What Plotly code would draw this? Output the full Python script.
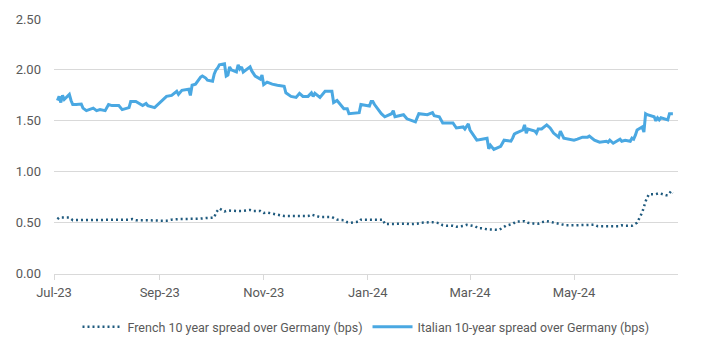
import pandas as pd
import plotly.graph_objects as go

# Italian 10-year spread over Germany
italy_dates = [
    "2023-07-03", "2023-07-04", "2023-07-05", "2023-07-06", "2023-07-07", "2023-07-10", "2023-07-11",
    "2023-07-12", "2023-07-14", "2023-07-17", "2023-07-18", "2023-07-20", "2023-07-24", "2023-07-26",
    "2023-07-28", "2023-07-31", "2023-08-02", "2023-08-04", "2023-08-08", "2023-08-10", "2023-08-14",
    "2023-08-15", "2023-08-18", "2023-08-22", "2023-08-24", "2023-08-25", "2023-08-29", "2023-09-01",
    "2023-09-05", "2023-09-08", "2023-09-11", "2023-09-12", "2023-09-14", "2023-09-18", "2023-09-19",
    "2023-09-20", "2023-09-22", "2023-09-25", "2023-09-26", "2023-09-27", "2023-09-28", "2023-09-29",
    "2023-10-02", "2023-10-03", "2023-10-04", "2023-10-05", "2023-10-06", "2023-10-09", "2023-10-10",
    "2023-10-11", "2023-10-12", "2023-10-13", "2023-10-16", "2023-10-17", "2023-10-18", "2023-10-19",
    "2023-10-20", "2023-10-24", "2023-10-25", "2023-10-27", "2023-10-30", "2023-10-31", "2023-11-01",
    "2023-11-03", "2023-11-06", "2023-11-09", "2023-11-13", "2023-11-14", "2023-11-17", "2023-11-20",
    "2023-11-22", "2023-11-24", "2023-11-27", "2023-11-29", "2023-11-30", "2023-12-01", "2023-12-04",
    "2023-12-07", "2023-12-11", "2023-12-12", "2023-12-14", "2023-12-15", "2023-12-18", "2023-12-20",
    "2023-12-21", "2023-12-27", "2023-12-28", "2024-01-02", "2024-01-03", "2024-01-04", "2024-01-05",
    "2024-01-09", "2024-01-11", "2024-01-15", "2024-01-16", "2024-01-17", "2024-01-22", "2024-01-24",
    "2024-01-29", "2024-01-31", "2024-02-05", "2024-02-08", "2024-02-09", "2024-02-12", "2024-02-14",
    "2024-02-19", "2024-02-20", "2024-02-22", "2024-02-26", "2024-02-27", "2024-02-29", "2024-03-01",
    "2024-03-05", "2024-03-08", "2024-03-11", "2024-03-12", "2024-03-13", "2024-03-15", "2024-03-19",
    "2024-03-21", "2024-03-25", "2024-03-26", "2024-03-27", "2024-03-28", "2024-04-01", "2024-04-02",
    "2024-04-03", "2024-04-04", "2024-04-08", "2024-04-09", "2024-04-10", "2024-04-12", "2024-04-15",
    "2024-04-17", "2024-04-19", "2024-04-22", "2024-04-23", "2024-04-25", "2024-04-29", "2024-05-01",
    "2024-05-03", "2024-05-06", "2024-05-09", "2024-05-10", "2024-05-13", "2024-05-16", "2024-05-20",
    "2024-05-21", "2024-05-22", "2024-05-24", "2024-05-28", "2024-05-29", "2024-05-31", "2024-06-03",
    "2024-06-04", "2024-06-05", "2024-06-06", "2024-06-07", "2024-06-10", "2024-06-11", "2024-06-12",
    "2024-06-13", "2024-06-17", "2024-06-18", "2024-06-19", "2024-06-20", "2024-06-21", "2024-06-25",
    "2024-06-26", "2024-06-28",
]
italy_values = [
    1.70, 1.74, 1.68, 1.75, 1.71, 1.76, 1.70,
    1.66, 1.66, 1.665, 1.625, 1.60, 1.625, 1.60,
    1.61, 1.60, 1.66, 1.65, 1.65, 1.61, 1.63,
    1.69, 1.69, 1.65, 1.67, 1.65, 1.63, 1.68,
    1.74, 1.75, 1.79, 1.76, 1.80, 1.81, 1.75,
    1.85, 1.86, 1.93, 1.94, 1.93, 1.92, 1.90,
    1.89, 1.96, 2.00, 2.02, 2.05, 2.06, 1.94,
    1.95, 2.03, 2.00, 1.98, 2.05, 2.01, 2.03,
    1.98, 2.03, 1.99, 1.94, 1.91, 1.95, 1.855,
    1.88, 1.86, 1.85, 1.84, 1.775, 1.74, 1.73,
    1.77, 1.74, 1.74, 1.775, 1.74, 1.77, 1.73,
    1.79, 1.79, 1.68, 1.70, 1.68, 1.62, 1.62,
    1.57, 1.58, 1.66, 1.645, 1.69, 1.69, 1.66,
    1.57, 1.54, 1.57, 1.60, 1.54, 1.56, 1.52,
    1.49, 1.57, 1.56, 1.58, 1.55, 1.54, 1.48,
    1.48, 1.48, 1.43, 1.44, 1.42, 1.47, 1.41,
    1.31, 1.32, 1.33, 1.225, 1.26, 1.22, 1.25,
    1.31, 1.30, 1.33, 1.37, 1.38, 1.41, 1.46,
    1.38, 1.42, 1.40, 1.38, 1.42, 1.42, 1.46,
    1.43, 1.38, 1.34, 1.40, 1.33, 1.32, 1.31,
    1.32, 1.34, 1.34, 1.35, 1.31, 1.29, 1.30,
    1.29, 1.31, 1.28, 1.32, 1.30, 1.31, 1.30,
    1.33, 1.32, 1.36, 1.41, 1.44, 1.39, 1.57,
    1.56, 1.54, 1.50, 1.53, 1.51, 1.53, 1.51,
    1.57, 1.57,
]

# French 10-year spread over Germany
france_dates = [
    "2023-07-03", "2023-07-04", "2023-07-07", "2023-07-10", "2023-07-12", "2023-07-17", "2023-07-20",
    "2023-07-26", "2023-07-28", "2023-08-02", "2023-08-09", "2023-08-14", "2023-08-16", "2023-08-18",
    "2023-08-24", "2023-08-28", "2023-09-01", "2023-09-05", "2023-09-08", "2023-09-12", "2023-09-19",
    "2023-09-25", "2023-09-28", "2023-10-02", "2023-10-03", "2023-10-04", "2023-10-06", "2023-10-09",
    "2023-10-11", "2023-10-16", "2023-10-19", "2023-10-24", "2023-10-26", "2023-10-30", "2023-11-01",
    "2023-11-03", "2023-11-08", "2023-11-13", "2023-11-16", "2023-11-22", "2023-11-27", "2023-11-29",
    "2023-12-01", "2023-12-04", "2023-12-11", "2023-12-14", "2023-12-18", "2023-12-20", "2023-12-22",
    "2023-12-27", "2023-12-28", "2024-01-02", "2024-01-04", "2024-01-08", "2024-01-10", "2024-01-11",
    "2024-01-15", "2024-01-19", "2024-01-24", "2024-01-26", "2024-01-30", "2024-02-01", "2024-02-05",
    "2024-02-08", "2024-02-12", "2024-02-14", "2024-02-16", "2024-02-20", "2024-02-22", "2024-02-26",
    "2024-02-28", "2024-03-04", "2024-03-06", "2024-03-08", "2024-03-11", "2024-03-14", "2024-03-18",
    "2024-03-20", "2024-03-22", "2024-03-26", "2024-03-28", "2024-04-02", "2024-04-04", "2024-04-08",
    "2024-04-10", "2024-04-12", "2024-04-15", "2024-04-18", "2024-04-22", "2024-04-24", "2024-04-26",
    "2024-05-01", "2024-05-06", "2024-05-09", "2024-05-13", "2024-05-15", "2024-05-20", "2024-05-27",
    "2024-05-29", "2024-05-31", "2024-06-04", "2024-06-06", "2024-06-07", "2024-06-10", "2024-06-11",
    "2024-06-12", "2024-06-13", "2024-06-14", "2024-06-18", "2024-06-20", "2024-06-24", "2024-06-25",
    "2024-06-27", "2024-06-28",
]
france_values = [
    0.535, 0.55, 0.55, 0.55, 0.525, 0.525, 0.525,
    0.525, 0.53, 0.53, 0.53, 0.53, 0.535, 0.525,
    0.525, 0.52, 0.52, 0.52, 0.53, 0.535, 0.535,
    0.54, 0.545, 0.545, 0.55, 0.60, 0.64, 0.61,
    0.62, 0.615, 0.615, 0.625, 0.615, 0.615, 0.595,
    0.60, 0.585, 0.565, 0.565, 0.565, 0.565, 0.58,
    0.57, 0.555, 0.555, 0.53, 0.525, 0.505, 0.50,
    0.51, 0.53, 0.53, 0.535, 0.53, 0.53, 0.487,
    0.49, 0.49, 0.49, 0.485, 0.49, 0.50, 0.50,
    0.505, 0.495, 0.475, 0.47, 0.47, 0.46, 0.468,
    0.48, 0.465, 0.445, 0.445, 0.435, 0.435, 0.43,
    0.448, 0.47, 0.487, 0.51, 0.515, 0.50, 0.49,
    0.49, 0.505, 0.515, 0.505, 0.49, 0.49, 0.475,
    0.475, 0.475, 0.48, 0.48, 0.465, 0.465, 0.465,
    0.475, 0.47, 0.47, 0.487, 0.50, 0.60, 0.66,
    0.71, 0.75, 0.78, 0.78, 0.79, 0.77, 0.77,
    0.81, 0.79,
]

x_tick_dates = ["2023-07-01", "2023-09-01", "2023-11-01", "2024-01-01", "2024-03-01", "2024-05-01"]
x_tick_labels = ["Jul-23", "Sep-23", "Nov-23", "Jan-24", "Mar-24", "May-24"]
y_ticks = [0.0, 0.5, 1.0, 1.5, 2.0, 2.5]

FONT = "Roboto, 'Liberation Sans', sans-serif"
GREY_TXT = "#595959"
GRID = "#d9d9d9"

fig = go.Figure()
fig.add_trace(go.Scatter(
    x=pd.to_datetime(france_dates), y=france_values, mode="lines",
    name="French 10 year spread over Germany (bps)",
    line=dict(color="#1f5a7e", width=2.5, dash="2px,3px"),
))
fig.add_trace(go.Scatter(
    x=pd.to_datetime(italy_dates), y=italy_values, mode="lines",
    name="Italian 10-year spread over Germany (bps)",
    line=dict(color="#4aa8e2", width=3),
))

fig.update_layout(
    width=712, height=347,
    margin=dict(l=54, r=34, t=16, b=69),
    paper_bgcolor="white", plot_bgcolor="white",
    font=dict(family=FONT, size=13, color=GREY_TXT),
    legend=dict(orientation="h", x=0.5, xanchor="center", yref="container",
                y=0.057, yanchor="middle", font=dict(size=12.5, color=GREY_TXT),
                itemwidth=40, tracegroupgap=0),
    showlegend=True,
)
fig.update_xaxes(
    type="date", range=["2023-07-01", "2024-07-01"],
    tickvals=pd.to_datetime(x_tick_dates), ticktext=x_tick_labels,
    showgrid=False, showline=True, linecolor=GRID, linewidth=1,
    ticks="outside", ticklen=5, tickcolor=GRID, ticklabelstandoff=2,
    tickfont=dict(size=13, color=GREY_TXT), zeroline=False,
)
fig.update_yaxes(
    range=[0, 2.5], tickvals=y_ticks, tickformat=".2f",
    showgrid=True, gridcolor=GRID, gridwidth=1, zeroline=False,
    showline=False, ticks="", ticklabelstandoff=12,
    tickfont=dict(size=13, color=GREY_TXT),
)

fig.write_html("out.html")
